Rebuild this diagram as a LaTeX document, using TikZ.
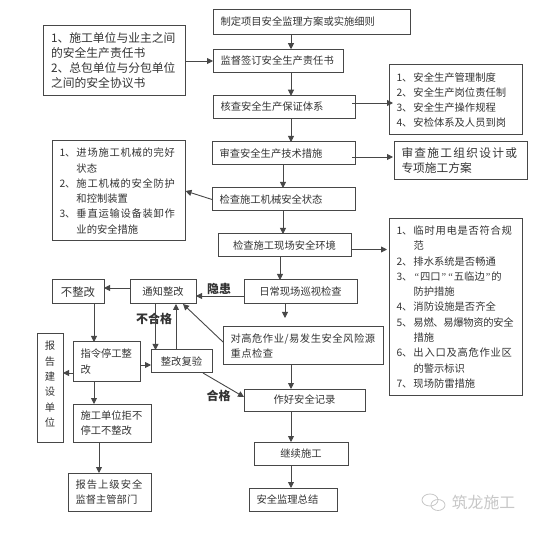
\documentclass[tikz,border=0pt]{standalone}
\usepackage{fontspec}
\setmainfont{Noto Sans CJK SC}
\newfontfamily\quotefont{Liberation Serif}
\usetikzlibrary{arrows.meta}
\definecolor{InkGray}{gray}{0.2}
\definecolor{LineGray}{gray}{0.28}
\definecolor{MarkGray}{gray}{0.78}
\newcommand{\wide}[2]{{\addfontfeature{LetterSpace=#1}#2}}
\newcommand{\numlabel}[1]{\makebox[17pt][l]{#1}}
\newcommand{\hangin}{\hspace*{17pt}}
\newcommand{\qmark}[1]{\makebox[6.6pt][c]{\quotefont #1}}
\tikzset{
  flowbox/.style={draw=LineGray, line width=1pt, text=InkGray, inner xsep=7.5pt, inner ysep=0pt,
    outer sep=0pt, align=left, font=\fontsize{10.3}{15.3}\selectfont},
  boxw/.style={text width=#1pt-15pt},
  flow/.style={draw=LineGray, line width=0.9pt, -{Triangle[length=6pt,width=6pt]}},
  tagtext/.style={text=InkGray, inner sep=0pt, font=\fontsize{12}{14}\selectfont\bfseries}
}
\begin{document}
\begin{tikzpicture}[x=1pt, y=-1pt]
    \useasboundingbox (0,0) rectangle (541,537);

    % Main column
    \node[flowbox, boxw=197, minimum height=24.5pt] (plan) at (311.5,22) {制定项目安全监理方案或实施细则};
    \node[flowbox, boxw=130, minimum height=23.5pt] (sign) at (278,61) {监督签订安全生产责任书};
    \node[flowbox, boxw=142, minimum height=22.5pt] (check) at (284,107) {核查安全生产保证体系};
    \node[flowbox, boxw=143, minimum height=23pt] (review) at (283.5,153.5) {审查安全生产技术措施};
    \node[flowbox, boxw=143, minimum height=23pt] (mech) at (283.5,199.5) {检查施工机械安全状态};
    \node[flowbox, boxw=133, minimum height=23pt, align=center] (site) at (284.5,245.5) {检查施工现场安全环境};
    \node[flowbox, boxw=113, minimum height=24pt, align=center] (patrol) at (300.5,292) {日常现场巡视检查};
    \node[flowbox, boxw=160, minimum height=38pt] (high) at (303,346) {\wide{5}{对高危作业/易发生安全风险源}\\\wide{5}{重点检查}};
    \node[flowbox, boxw=121, minimum height=22pt, align=center] (record) at (304.5,400) {作好安全记录};
    \node[flowbox, boxw=94, minimum height=23pt, align=center] (cont) at (301,453.5) {继续施工};
    \node[flowbox, boxw=88, minimum height=23pt] (summary) at (293,499.5) {安全监理总结};

    % Left lists
    \node[flowbox, boxw=142, minimum height=70pt, font=\fontsize{11.8}{15}\selectfont] (contract) at (114.5,61)
      {1、施工单位与业主之间\\的安全生产责任书\\2、总包单位与分包单位\\之间的安全协议书};
    \node[flowbox, boxw=133.5, minimum height=100pt] (mechlist) at (118.75,191)
      {\numlabel{1、}\wide{7}{进场施工机械的完好}\\\hangin 状态\\
       \numlabel{2、}\wide{7}{施工机械的安全防护}\\\hangin 和控制装置\\
       \numlabel{3、}\wide{7}{垂直运输设备装卸作}\\\hangin 业的安全措施};

    % Right lists
    \node[flowbox, boxw=133, minimum height=69.5pt, font=\fontsize{10.3}{15}\selectfont] (safelist) at (455.5,99.75)
      {\numlabel{1、}安全生产管理制度\\\numlabel{2、}安全生产岗位责任制\\
       \numlabel{3、}安全生产操作规程\\\numlabel{4、}安检体系及人员到岗};
    \node[flowbox, boxw=133, minimum height=38pt, font=\fontsize{11.7}{15}\selectfont] (design) at (460.5,161)
      {\wide{11}{审查施工组织设计或}\\专项施工方案};
    \node[flowbox, boxw=133, minimum height=176pt] (sitelist) at (455.5,307)
      {\numlabel{1、}\wide{7}{临时用电是否符合规}\\\hangin 范\\
       \numlabel{2、}排水系统是否畅通\\
       \numlabel{3、}\qmark{“}四口\qmark{”}\qmark{“}五临边\qmark{”}的\\\hangin 防护措施\\
       \numlabel{4、}消防设施是否齐全\\
       \numlabel{5、}\wide{-3}{易燃、易爆物资的安全}\\\hangin 措施\\
       \numlabel{6、}\wide{7}{出入口及高危作业区}\\\hangin 的警示标识\\
       \numlabel{7、}现场防雷措施};

    % Rectification loop
    \node[flowbox, boxw=52, minimum height=24pt, align=center, font=\fontsize{11.4}{15}\selectfont] (refuse) at (78,292) {不整改};
    \node[flowbox, boxw=66, minimum height=24pt, align=center] (notify) at (163,292) {通知整改};
    \node[flowbox, boxw=67, minimum height=39pt] (stopwork) at (106.5,361.5) {指令停工整\\改};
    \node[flowbox, boxw=61, minimum height=23pt, align=center] (recheck) at (181.5,361.5) {整改复验};
    \node[flowbox, boxw=26, minimum height=108pt, inner xsep=0pt, text width=26pt, align=center] (owner) at (50,388)
      {报\\告\\建\\设\\单\\位\\[-7pt]\mbox{}};
    \node[flowbox, boxw=78, minimum height=38pt] (defy) at (112,423) {施工单位拒不\\停工不整改};
    \node[flowbox, boxw=83, minimum height=38pt] (upper) at (109.5,492) {\wide{10}{报告上级安全}\\监督主管部门};

    % Labels on connectors
    \node[tagtext] (hazard) at (219,288.5) {隐患};
    \node[tagtext] (failed) at (154,319) {不合格};
    \node[tagtext] (passed) at (218.5,396) {合格};

    % Column and row helpers
    \coordinate (colA) at (291,0);
    \coordinate (colB) at (283,0);
    \coordinate (colC) at (280,0);
    \coordinate (colD) at (285,0);
    \coordinate (colE) at (94,0);
    \coordinate (colF) at (99,0);
    \coordinate (colG) at (155.5,0);
    \coordinate (colH) at (176,0);
    \coordinate (colI) at (183,0);
    \coordinate (colJ) at (203,0);
    \coordinate (safein) at (393,103);
    \coordinate (designin) at (393,157);
    \coordinate (sitein) at (387,249.5);
    \coordinate (highin) at (285,318);
    \coordinate (rowA) at (0,296);
    \coordinate (rowB) at (0,288);
    \coordinate (rowC) at (0,365);
    \coordinate (rowD) at (0,373);

    % Main connectors
    \draw[flow] (plan.south -| colA) -- (sign.north -| colA);
    \draw[flow] (sign.south -| colA) -- (check.north -| colA);
    \draw[flow] (check.south -| colA) -- (review.north -| colA);
    \draw[flow] (review.south -| colB) -- (mech.north -| colB);
    \draw[flow] (mech.south -| colB) -- (site.north -| colB);
    \draw[flow] (site.south -| colC) -- (patrol.north -| colC);
    \draw[flow] (patrol.south -| colD) -- (highin);
    \draw[flow] (high.south -| colA) -- (record.north -| colA);
    \draw[flow] (record.south -| colA) -- (cont.north -| colA);
    \draw[flow] (cont.south -| colA) -- (summary.north -| colA);

    % Side connectors
    \draw[flow] (contract.east) -- (sign.west);
    \draw[flow] (mech.west) -- (mechlist.east);
    \draw[flow] (check.east |- safein) ++(-3,0) -- (safein);
    \draw[flow] (review.east |- designin) ++(-3,0) -- (designin);
    \draw[flow] (site.east |- sitein) -- (sitein);

    % Loop connectors
    \draw[flow] (patrol.west |- rowA) -- (notify.east |- rowA);
    \draw[flow] (notify.west |- rowB) -- (refuse.east |- rowB);
    \draw[flow] (refuse.south -| colE) -- (stopwork.north -| colE);
    \draw[flow] (notify.south -| colG) -- (recheck.north -| colG);
    \draw[flow] (recheck.north -| colH) -- (notify.south -| colH);
    \draw[flow] ([yshift=4pt]high.west) -- (notify.south -| colI);
    \draw[flow] (stopwork.east |- rowC) -- (recheck.west |- rowC);
    \draw[flow] (stopwork.west |- rowD) -- (owner.east |- rowD);
    \draw[flow] (stopwork.south -| colE) -- (defy.north -| colE);
    \draw[flow] (defy.south -| colF) -- (upper.north -| colF);
    \draw[flow] (recheck.south -| colJ) -- ([yshift=3pt]record.west);

    % Watermark
    \draw[MarkGray, line width=0.8pt] (430,500) ellipse [x radius=8, y radius=6];
    \draw[MarkGray, line width=0.8pt] (438,505) ellipse [x radius=7, y radius=5.5];
    \node[text=MarkGray, inner sep=0pt, font=\fontsize{15.8}{18}\selectfont] (brand) at (483.5,502) {筑龙施工};
\end{tikzpicture}
\end{document}
